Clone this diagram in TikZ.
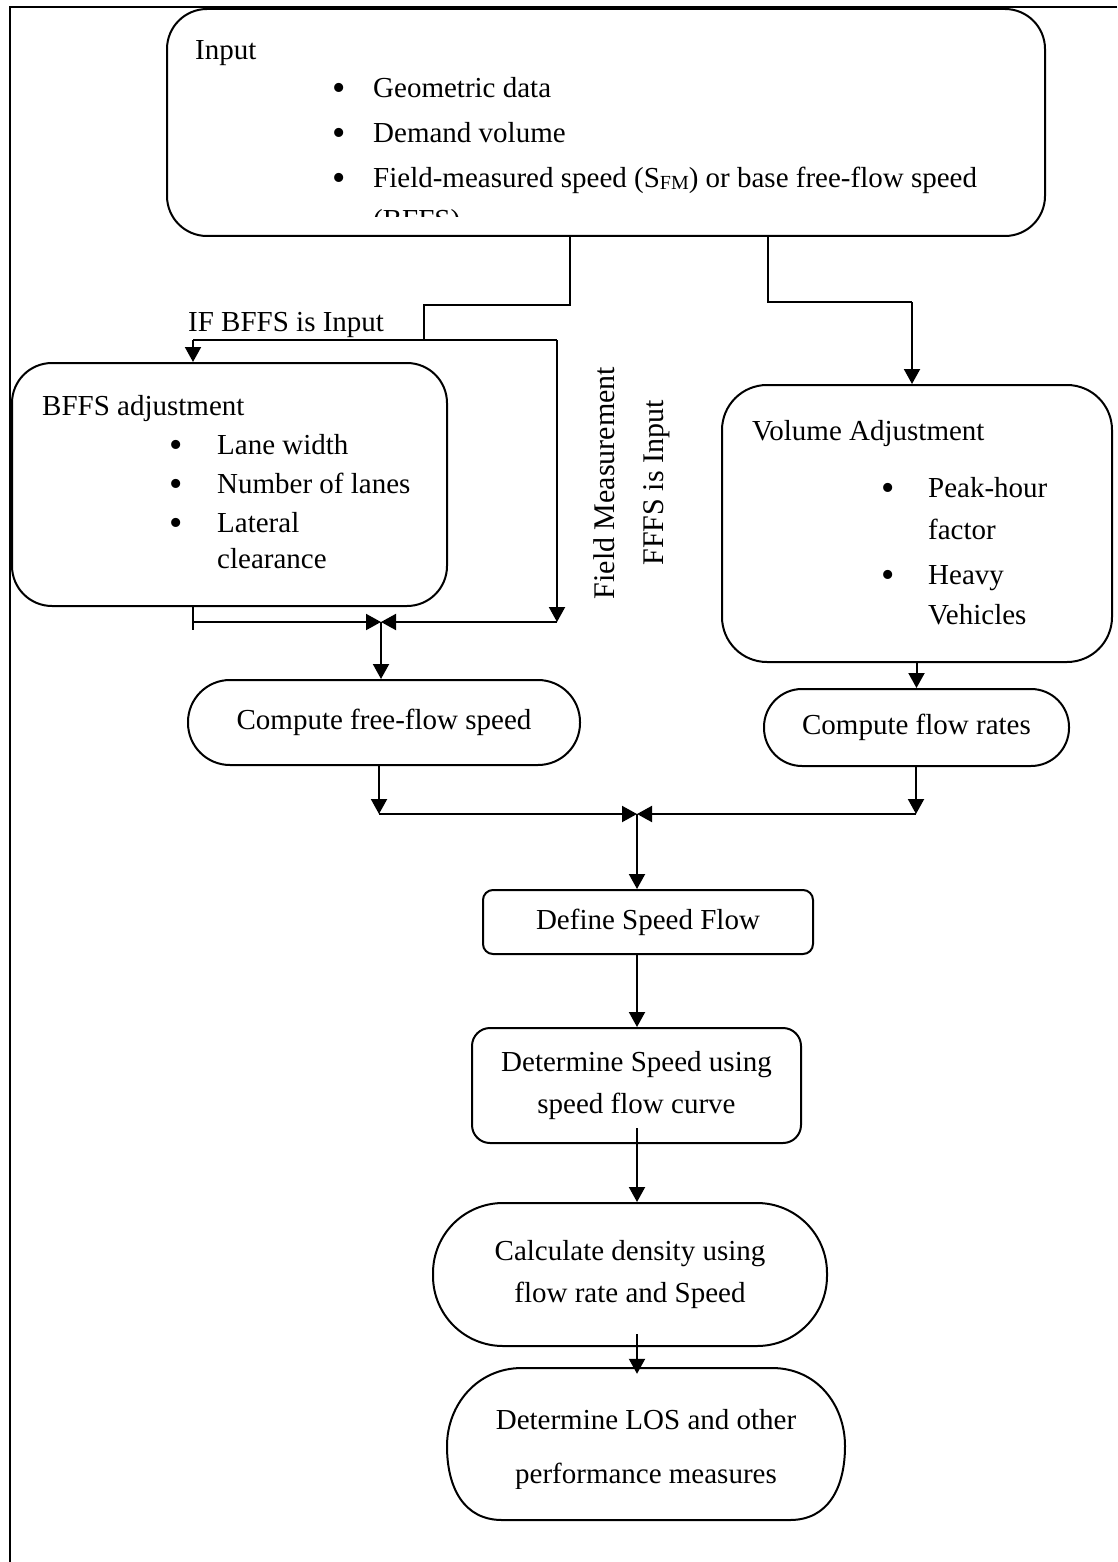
\documentclass[tikz,border=0pt]{standalone}
\usepackage{fontspec}
\setmainfont{Liberation Serif}
\usetikzlibrary{arrows.meta}
\newcommand{\bigbul}{\raisebox{-3pt}{\fontsize{38}{38}\selectfont\textbullet}}
\begin{document}
\begin{tikzpicture}[x=1pt,y=-1pt,
  every node/.style={font=\fontsize{29}{34}\selectfont, inner sep=0pt},
  box/.style={draw, line width=2pt, rounded corners=#1},
  conn/.style={line width=2pt},
  thinconn/.style={line width=1.5pt},
  arr/.style={line width=2pt, -{Triangle[length=15pt,width=16pt]}},
  txt/.style={anchor=base west},
  two/.style={align=center, font=\fontsize{29}{42}\selectfont},
]
\useasboundingbox (0,0) rectangle (1117,1562);
\fill[white] (0,0) rectangle (1117,1562);
\draw[line width=2pt] (1117,7) -- (10,7) -- (10,1562);

% ---------- boxes ----------
\node[box=40pt, minimum width=878pt, minimum height=227pt] (input) at (606,122.5) {};
\node[box=40pt, minimum width=435pt, minimum height=243pt] (bffs) at (229.5,484.5) {};
\node[box=45pt, minimum width=390pt, minimum height=277pt] (vol) at (917,523.5) {};
\node[box=42pt, minimum width=392pt, minimum height=85pt] (ffs) at (384,722.5) {Compute free-flow speed};
\node[box=38pt, minimum width=305pt, minimum height=77pt] (flow) at (916.5,727.5) {Compute flow rates};
\node[box=10pt, minimum width=330pt, minimum height=64pt] (define) at (648,922) {Define Speed Flow};
\node[box=18pt, minimum width=329pt, minimum height=115pt, two] (dets) at (636.5,1085.5) {Determine Speed using\\speed flow curve};
\node[box=70pt, minimum width=394pt, minimum height=143pt, two] (calc) at (630,1274.5) {Calculate density using\\flow rate and Speed};

% LOS shape
\draw[line width=2pt] (522,1368) -- (772,1368)
  .. controls (817,1368) and (845,1405) .. (845,1446)
  .. controls (845,1488) and (828,1520) .. (790,1520)
  -- (502,1520)
  .. controls (464,1520) and (447,1488) .. (447,1446)
  .. controls (447,1405) and (477,1368) .. (522,1368);
\begin{scope}
\clip (440,1360) rectangle (850,1488);
\node[minimum width=398pt, minimum height=152pt, align=center, font=\fontsize{29}{54}\selectfont] (los) at (646,1450) {Determine LOS and other\\performance measures};
\end{scope}

% ---------- texts in Input ----------
\node[txt] (tin) at (195,60) {Input};
\node[txt] (bi1) at (332,98) {\bigbul};
\node[txt] (ti1) at (373,98) {Geometric data};
\node[txt] (bi2) at (332,143) {\bigbul};
\node[txt] (ti2) at (373,143) {Demand volume};
\node[txt] (bi3) at (332,188) {\bigbul};
\node[txt] (ti3) at (373,188) {Field-measured speed (S{\fontsize{20}{20}\selectfont\raisebox{-2pt}{FM}}) or base free-flow speed};
\begin{scope}
\clip (300,200) rectangle (700,217);
\node[txt] (ti4) at (373,230) {(BFFS)};
\end{scope}

% ---------- texts in BFFS ----------
\node[txt] (tb0) at (42,415) {BFFS adjustment};
\node[txt] (bb1) at (169,454) {\bigbul};
\node[txt] (tb1) at (217,454) {Lane width};
\node[txt] (bb2) at (169,493) {\bigbul};
\node[txt] (tb2) at (217,493) {Number of lanes};
\node[txt] (bb3) at (169,532) {\bigbul};
\node[txt] (tb3) at (217,532) {Lateral};
\node[txt] (tb4) at (217,568) {clearance};

% ---------- texts in Volume ----------
\node[txt] (tv0) at (752,440) {Volume Adjustment};
\node[txt] (bv1) at (881,497) {\bigbul};
\node[txt] (tv1) at (928,497) {Peak-hour};
\node[txt] (tv2) at (928,539) {factor};
\node[txt] (bv2) at (881,584) {\bigbul};
\node[txt] (tv3) at (928,584) {Heavy};
\node[txt] (tv4) at (928,624) {Vehicles};

% ---------- labels ----------
\node[txt] (ifb) at (188,331) {IF BFFS is Input};
\node[rotate=90, align=center, font=\fontsize{30}{49}\selectfont] (fm) at (632,483) {Field Measurement\\FFFS is Input};

% ---------- connectors ----------
\coordinate (a1) at (570,305);
\coordinate (a2) at (424,305);
\coordinate (a3) at (424,340);
\coordinate (aL) at (193,340);
\coordinate (aR) at (557,340);
\coordinate (c1) at (557,622);
\coordinate (c2) at (193,622);
\coordinate (c2b) at (193,630);
\coordinate (m1) at (381,622);
\draw[thinconn] (input.south -| a1) -- (a1) -- (a2) -- (a3);
\draw[conn] (aL) -- (aR);
\draw[arr] (aL) -- (bffs.north -| aL);
\draw[arr] (aR) -- (c1);
\draw[arr] (c1) -- (m1);
\draw[conn] (bffs.south -| c2) -- (c2b);
\draw[arr] (c2) -- (m1);
\draw[arr] (m1) -- (ffs.north -| m1);

\coordinate (b1) at (768,302);
\coordinate (b2) at (912,302);
\draw[thinconn] (input.south -| b1) -- (b1) -- (b2);
\draw[arr] (b2) -- (vol.north -| b2);
\draw[arr] (vol.south -| flow.north) -- (flow.north);

\coordinate (d2) at (379,814);
\coordinate (d3) at (916,814);
\coordinate (m2) at (637,814);
\draw[arr] (ffs.south -| d2) -- (d2);
\draw[arr] (flow.south -| d3) -- (d3);
\draw[arr] (d2) -- (m2);
\draw[arr] (d3) -- (m2);
\draw[arr] (m2) -- (define.north -| m2);
\draw[arr] (define.south -| m2) -- (dets.north -| m2);
\coordinate (e1) at ([yshift=16pt]dets.south);
\draw[arr] (e1 -| m2) -- (calc.north -| m2);
\coordinate (e2) at ([yshift=13pt]calc.south);
\draw[arr] (e2 -| m2) -- (los.north -| m2);
\end{tikzpicture}
\end{document}
